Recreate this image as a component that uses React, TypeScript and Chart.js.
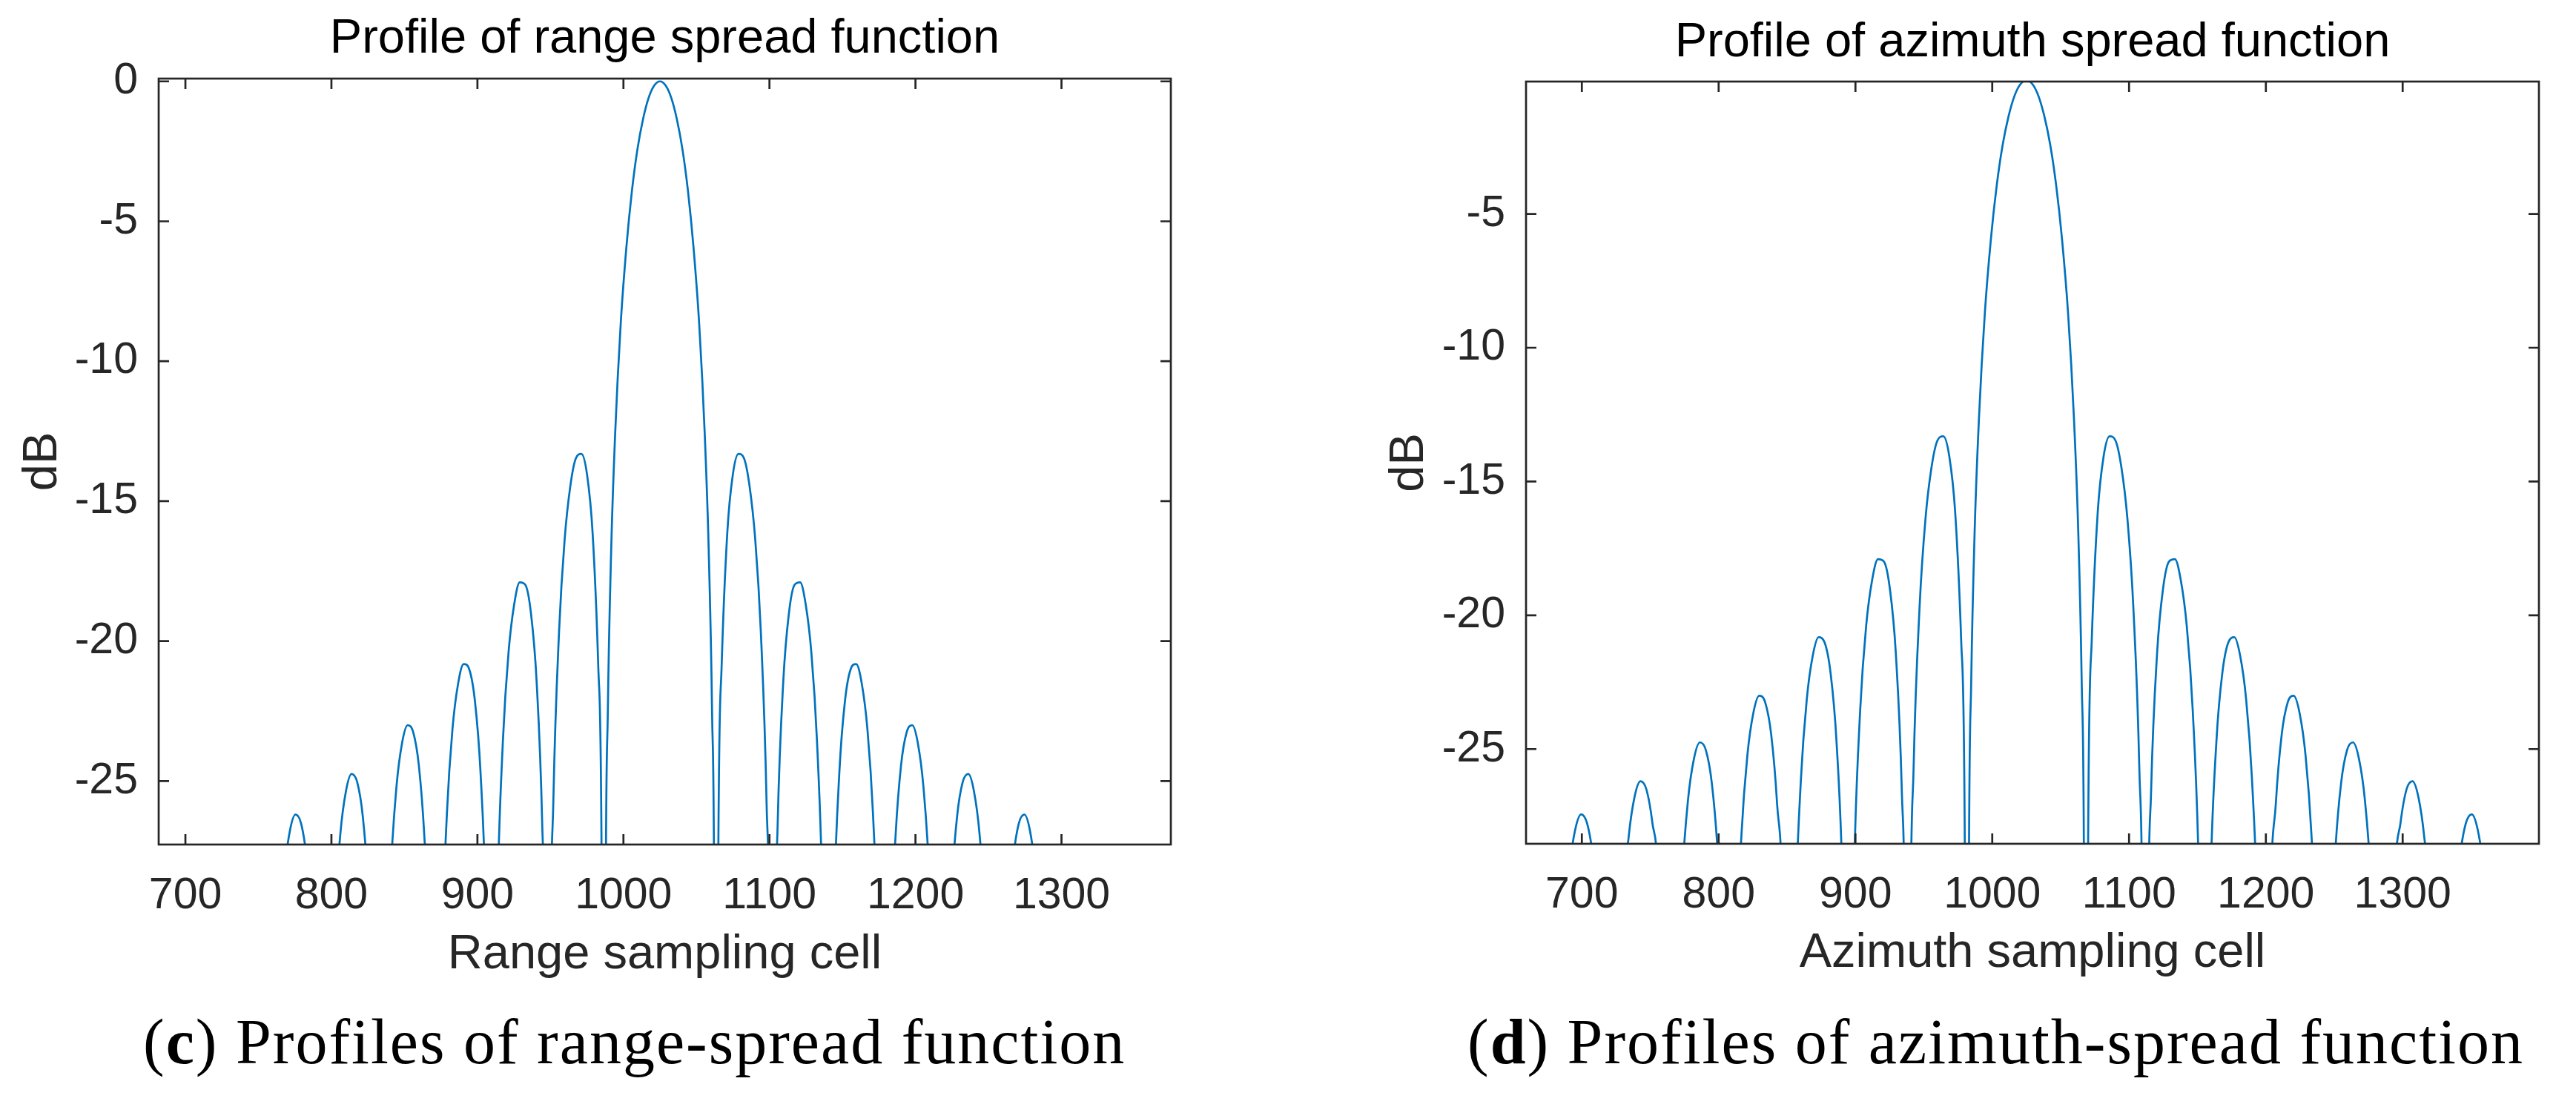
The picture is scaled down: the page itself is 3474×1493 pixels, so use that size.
import { useEffect, useRef } from "react";
import { Chart, registerables } from "chart.js";

Chart.register(...registerables);

// Sampling cells of the range profile (panel c)
const rangeCells = [
  717.8,
  725.5, 729.3, 733.2, 737.0, 740.8, 744.7, 748.5,
  756.2,
  763.9, 767.7, 771.6, 775.4, 779.2, 783.1, 786.9,
  794.6,
  798.4, 802.3, 806.1, 810.0, 813.8, 817.6, 821.5, 825.3, 829.2,
  833.0,
  836.8, 840.7, 844.5, 848.4, 852.2, 856.0, 859.9, 863.7, 867.6,
  871.4,
  872.9, 875.2, 879.1, 882.9, 886.8, 890.6, 894.4, 898.3, 902.1, 906.0, 908.3,
  909.8,
  911.3, 913.6, 917.5, 921.3, 925.2, 929.0, 932.8, 936.7, 940.5, 944.4, 946.7,
  948.2,
  949.7, 952.0, 955.9, 959.7, 963.6, 967.4, 971.2, 975.1, 978.9, 982.8, 985.1,
  986.6,
  987.8, 989.3, 991.6, 994.3, 998.1, 1002.0, 1005.8, 1009.6, 1013.5, 1017.3, 1021.2, 1025.0,
  1028.8, 1032.7, 1036.5, 1040.4, 1044.2, 1048.0, 1051.9, 1055.7, 1058.4, 1060.7, 1062.2,
  1063.4,
  1064.9, 1067.2, 1071.1, 1074.9, 1078.8, 1082.6, 1086.4, 1090.3, 1094.1, 1098.0, 1100.3,
  1101.8,
  1103.3, 1105.6, 1109.5, 1113.3, 1117.2, 1121.0, 1124.8, 1128.7, 1132.5, 1136.4, 1138.7,
  1140.2,
  1141.7, 1144.0, 1147.9, 1151.7, 1155.6, 1159.4, 1163.2, 1167.1, 1170.9, 1174.8, 1177.1,
  1178.6,
  1182.4, 1186.3, 1190.1, 1194.0, 1197.8, 1201.6, 1205.5, 1209.3, 1213.2,
  1217.0,
  1220.8, 1224.7, 1228.5, 1232.4, 1236.2, 1240.0, 1243.9, 1247.7, 1251.6,
  1255.4,
  1263.1, 1266.9, 1270.8, 1274.6, 1278.4, 1282.3, 1286.1,
  1293.8,
  1301.5, 1305.3, 1309.2, 1313.0, 1316.8, 1320.7, 1324.5,
  1332.2,
];

// Sampling cells of the azimuth profile (panel d)
const azimuthCells = [
  677.8,
  686.5, 690.8, 695.2, 699.5, 703.8, 708.2, 712.5,
  721.2,
  729.9, 734.2, 738.6, 742.9, 747.2, 751.6, 755.9,
  764.6,
  768.9, 773.3, 777.6, 782.0, 786.3, 790.6, 795.0, 799.3, 803.7,
  808.0,
  812.3, 816.7, 821.0, 825.4, 829.7, 834.0, 838.4, 842.7, 847.1,
  851.4,
  853.1, 855.7, 860.1, 864.4, 868.8, 873.1, 877.4, 881.8, 886.1, 890.5, 893.1,
  894.8,
  896.5, 899.1, 903.5, 907.8, 912.2, 916.5, 920.8, 925.2, 929.5, 933.9, 936.5,
  938.2,
  939.9, 942.5, 946.9, 951.2, 955.6, 959.9, 964.2, 968.6, 972.9, 977.3, 979.9,
  981.6,
  982.9, 984.6, 987.2, 990.3, 994.6, 999.0, 1003.3, 1007.6, 1012.0, 1016.3, 1020.7, 1025.0,
  1029.3, 1033.7, 1038.0, 1042.4, 1046.7, 1051.0, 1055.4, 1059.7, 1062.8, 1065.4, 1067.1,
  1068.4,
  1070.1, 1072.7, 1077.1, 1081.4, 1085.8, 1090.1, 1094.4, 1098.8, 1103.1, 1107.5, 1110.1,
  1111.8,
  1113.5, 1116.1, 1120.5, 1124.8, 1129.2, 1133.5, 1137.8, 1142.2, 1146.5, 1150.9, 1153.5,
  1155.2,
  1156.9, 1159.5, 1163.9, 1168.2, 1172.6, 1176.9, 1181.2, 1185.6, 1189.9, 1194.3, 1196.9,
  1198.6,
  1202.9, 1207.3, 1211.6, 1216.0, 1220.3, 1224.6, 1229.0, 1233.3, 1237.7,
  1242.0,
  1246.3, 1250.7, 1255.0, 1259.4, 1263.7, 1268.0, 1272.4, 1276.7, 1281.1,
  1285.4,
  1294.1, 1298.4, 1302.8, 1307.1, 1311.4, 1315.8, 1320.1,
  1328.8,
  1337.5, 1341.8, 1346.2, 1350.5, 1354.8, 1359.2, 1363.5,
  1372.2,
];

// dB level at each sample; both profiles show the same lobe levels.
// -60 marks the nulls, which fall far below the visible axis.
const profileDb = [
  -60,
  -32.41, -29.51, -28.0, -27.44, -27.77, -29.05, -31.71,
  -60,
  -31.21, -28.3, -26.77, -26.2, -26.51, -27.77, -30.41,
  -60,
  -35.56, -29.83, -26.9, -25.35, -24.75, -25.03, -26.27, -28.88, -34.29,
  -60,
  -33.95, -28.19, -25.23, -23.64, -23.01, -23.25, -24.45, -27.03, -32.4,
  -60,
  -39.94, -31.96, -26.16, -23.15, -21.51, -20.82, -21.01, -22.15, -24.67, -29.97, -37.64,
  -60,
  -37.41, -29.39, -23.51, -20.41, -18.68, -17.9, -17.99, -19.02, -21.41, -26.59, -34.18,
  -60,
  -33.83, -25.72, -19.67, -16.39, -14.47, -13.47, -13.31, -14.06, -16.15, -20.97, -28.32,
  -60,
  -30.2, -22.54, -16.75, -12.62, -8.69, -5.94, -3.92, -2.42, -1.33, -0.58, -0.14, 0,
  -0.14, -0.58, -1.33, -2.42, -3.92, -5.94, -8.69, -12.62, -16.75, -22.54, -30.2,
  -60,
  -28.32, -20.97, -16.15, -14.06, -13.31, -13.47, -14.47, -16.39, -19.67, -25.72, -33.83,
  -60,
  -34.18, -26.59, -21.41, -19.02, -17.99, -17.9, -18.68, -20.41, -23.51, -29.39, -37.41,
  -60,
  -37.64, -29.97, -24.67, -22.15, -21.01, -20.82, -21.51, -23.15, -26.16, -31.96, -39.94,
  -60,
  -32.4, -27.03, -24.45, -23.25, -23.01, -23.64, -25.23, -28.19, -33.95,
  -60,
  -34.29, -28.88, -26.27, -25.03, -24.75, -25.35, -26.9, -29.83, -35.56,
  -60,
  -30.41, -27.77, -26.51, -26.2, -26.77, -28.3, -31.21,
  -60,
  -31.71, -29.05, -27.77, -27.44, -28.0, -29.51, -32.41,
  -60,
];

const cellTicks = [700, 800, 900, 1000, 1100, 1200, 1300];
const rangeDbTicks = [-25, -20, -15, -10, -5, 0];
const azimuthDbTicks = [-25, -20, -15, -10, -5];

const SANS = '"Liberation Sans", Arial, Helvetica, sans-serif';
const AXIS = "#262626";

const boxPlugin = {
  id: "matlabBox",
  afterDatasetsDraw(chart: any) {
    const { ctx, chartArea: a, scales } = chart;
    const len = 14;
    ctx.save();
    ctx.strokeStyle = AXIS;
    ctx.lineWidth = 2.7;
    ctx.beginPath();
    for (const t of scales.x.ticks) {
      const px = scales.x.getPixelForValue(t.value);
      ctx.moveTo(px, a.bottom);
      ctx.lineTo(px, a.bottom - len);
      ctx.moveTo(px, a.top);
      ctx.lineTo(px, a.top + len);
    }
    for (const t of scales.y.ticks) {
      const py = scales.y.getPixelForValue(t.value);
      ctx.moveTo(a.left, py);
      ctx.lineTo(a.left + len, py);
      ctx.moveTo(a.right, py);
      ctx.lineTo(a.right - len, py);
    }
    ctx.stroke();
    ctx.strokeRect(a.left, a.top, a.right - a.left, a.bottom - a.top);
    ctx.restore();
  },
};

type PanelProps = {
  left: number;
  cells: number[];
  title: string;
  xLabel: string;
  xMin: number;
  xMax: number;
  yMin: number;
  yMax: number;
  yTicks: number[];
  yAxisWidth: number;
  xAxisHeight: number;
  padRight: number;
  titlePad: { top: number; bottom: number };
  yTitlePad: number;
  xTitlePad: number;
};

function Panel(p: PanelProps) {
  const ref = useRef<HTMLCanvasElement>(null);

  useEffect(() => {
    if (!ref.current) return;
    const points = p.cells.map((x, i) => ({ x, y: profileDb[i] }));
    const chart = new Chart(ref.current, {
      type: "line",
      data: {
        datasets: [
          {
            data: points,
            borderColor: "#0072BD",
            borderWidth: 2.7,
            pointRadius: 0,
            fill: false,
            cubicInterpolationMode: "monotone",
            clip: 0,
          },
        ],
      },
      options: {
        animation: false,
        responsive: true,
        maintainAspectRatio: false,
        devicePixelRatio: 1,
        layout: { padding: { left: 0, right: p.padRight, top: 0, bottom: 0 } },
        plugins: {
          legend: { display: false },
          tooltip: { enabled: false },
          title: {
            display: true,
            text: p.title,
            fullSize: false,
            color: "#000",
            font: { family: SANS, size: 65, weight: "normal" },
            padding: p.titlePad,
          },
        },
        scales: {
          x: {
            type: "linear",
            min: p.xMin,
            max: p.xMax,
            grid: { display: false },
            border: { display: false },
            afterBuildTicks: (s: any) => {
              s.ticks = cellTicks.map((v) => ({ value: v }));
            },
            afterFit: (s: any) => {
              s.height = p.xAxisHeight;
            },
            ticks: {
              color: AXIS,
              padding: 26,
              maxRotation: 0,
              font: { family: SANS, size: 59 },
              callback: (v: any) => String(v),
            },
            title: {
              display: true,
              text: p.xLabel,
              color: AXIS,
              font: { family: SANS, size: 65 },
              padding: { top: 0, bottom: p.xTitlePad },
            },
          },
          y: {
            type: "linear",
            min: p.yMin,
            max: p.yMax,
            grid: { display: false },
            border: { display: false },
            afterBuildTicks: (s: any) => {
              s.ticks = p.yTicks.map((v) => ({ value: v }));
            },
            afterFit: (s: any) => {
              s.width = p.yAxisWidth;
            },
            ticks: {
              color: AXIS,
              padding: 20,
              font: { family: SANS, size: 59 },
              callback: (v: any) => String(v),
            },
            title: {
              display: true,
              text: "dB",
              color: AXIS,
              font: { family: SANS, size: 65 },
              padding: { top: p.yTitlePad, bottom: 0 },
            },
          },
        },
      },
      plugins: [boxPlugin],
    });
    return () => chart.destroy();
  }, []);

  return (
    <div style={{ position: "absolute", left: p.left, top: 0, width: 1737, height: 1340 }}>
      <canvas ref={ref} />
    </div>
  );
}

const captionStyle = {
  position: "absolute" as const,
  top: 1355,
  fontFamily: '"Liberation Serif", "Times New Roman", serif',
  fontSize: 86,
  lineHeight: "100px",
  letterSpacing: "2px",
  whiteSpace: "nowrap" as const,
  color: "#000",
};

export default function App() {
  return (
    <div
      style={{
        position: "absolute",
        left: 0,
        top: 0,
        width: 3474,
        height: 1493,
        background: "#fff",
        overflow: "hidden",
      }}
    >
      <Panel
        left={0}
        cells={rangeCells}
        title="Profile of range spread function"
        xLabel="Range sampling cell"
        xMin={681.7}
        xMax={1374.9}
        yMin={-27.27}
        yMax={0.1}
        yTicks={rangeDbTicks}
        yAxisWidth={214}
        xAxisHeight={201}
        padRight={158}
        titlePad={{ top: 14, bottom: 14 }}
        yTitlePad={19}
        xTitlePad={13}
      />
      <Panel
        left={1737}
        cells={azimuthCells}
        title="Profile of azimuth spread function"
        xLabel="Azimuth sampling cell"
        xMin={659.2}
        xMax={1399.6}
        yMin={-28.54}
        yMax={-0.05}
        yTicks={azimuthDbTicks}
        yAxisWidth={321}
        xAxisHeight={202}
        padRight={50}
        titlePad={{ top: 19, bottom: 13 }}
        yTitlePad={125}
        xTitlePad={15}
      />
      <div style={{ ...captionStyle, left: 193 }}>
        (<b>c</b>) Profiles of range-spread function
      </div>
      <div style={{ ...captionStyle, left: 1979 }}>
        (<b>d</b>) Profiles of azimuth-spread function
      </div>
    </div>
  );
}
